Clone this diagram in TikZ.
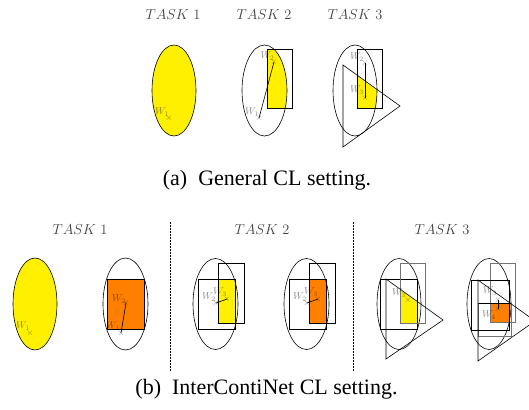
\documentclass[tikz,border=0pt]{standalone}
\usepackage{fontspec}
\newfontfamily\capfont{Liberation Serif}
\definecolor{cly}{RGB}{255,240,0}
\definecolor{clo}{RGB}{255,128,0}
\begin{document}
\begin{tikzpicture}[x=1pt,y=-1pt,
  shp/.style={draw=black,line width=0.6pt},
  gshp/.style={draw=black!55,line width=0.6pt},
  wlab/.style={font=\fontsize{10}{12}\selectfont,text=black,text opacity=0.45,inner sep=0pt},
  xmark/.style={font=\fontsize{9}{10}\selectfont,text=black,text opacity=0.45,inner sep=0pt},
  wline/.style={draw=black,line width=0.6pt},
  tasklab/.style={font=\fontsize{13.5}{16}\selectfont,text=black!75,inner sep=0pt},
  caplab/.style={font=\capfont\fontsize{22}{26}\selectfont,inner sep=0pt},
  sep/.style={draw=black,line width=0.5pt,dash pattern=on 1.5pt off 1.5pt}]
\useasboundingbox (0,0) rectangle (529,409);
\clip (0,0) rectangle (529,409);

% ---------- (a) ----------
\node[tasklab] (ta1) at (173,15) {$TASK\ 1$};
\node[tasklab] (ta2) at (264,15) {$TASK\ 2$};
\node[tasklab] (ta3) at (355,15) {$TASK\ 3$};

% Task 1
\fill[cly] (174,90.5) ellipse [x radius=22pt,y radius=45.5pt];
\draw[shp] (174,90.5) ellipse [x radius=22pt,y radius=45.5pt];
\node[wlab] (a1l1) at (162,112) {$W_1$};
\node[xmark] (a1x1) at (169,118) {$\times$};

% Task 2
\begin{scope}
  \clip (264.5,90.5) ellipse [x radius=22.5pt,y radius=45.5pt];
  \fill[cly] (267,49) rectangle (292,108);
\end{scope}
\draw[shp] (264.5,90.5) ellipse [x radius=22.5pt,y radius=45.5pt];
\draw[shp] (267,49) rectangle (292,108);
\node[wlab] (a2l2) at (267.5,56) {$W_2$};
\node[xmark] (a2x2) at (274,62) {$\times$};
\node[wlab] (a2l1) at (252,112) {$W_1$};
\node[xmark] (a2x1) at (259,118) {$\times$};
\draw[wline] (a2x1.center) -- (a2x2.center);

% Task 3
\begin{scope}
  \clip (355,90.5) ellipse [x radius=22pt,y radius=45.5pt];
  \clip (357,49) rectangle (382,108);
  \fill[cly] (343,65) -- (400,106) -- (343,147) -- cycle;
\end{scope}
\draw[shp] (355,90.5) ellipse [x radius=22pt,y radius=45.5pt];
\draw[shp] (357,49) rectangle (382,108);
\draw[shp] (343,65) -- (400,106) -- (343,147) -- cycle;
\node[wlab] (a3l2) at (357,57) {$W_2$};
\node[xmark] (a3x2) at (365,63) {$\times$};
\node[wlab] (a3l3) at (357,90) {$W_3$};
\node[xmark] (a3x3) at (365,98) {$\times$};
\draw[wline] (a3x2.center) -- (a3x3.center);

\node[caplab] (capa) at (267,180) {(a)\ \ General CL setting.};

% ---------- (b) ----------
\node[tasklab] (tb1) at (80,230) {$TASK\ 1$};
\node[tasklab] (tb2) at (262,230) {$TASK\ 2$};
\node[tasklab] (tb3) at (442,230) {$TASK\ 3$};
\coordinate (s1t) at (170,222); \coordinate (s1b) at (170,372);
\coordinate (s2t) at (353,222); \coordinate (s2b) at (353,372);
\draw[sep] (s1t) -- (s1b);
\draw[sep] (s2t) -- (s2b);

% Task 1 left
\fill[cly] (35,304) ellipse [x radius=22pt,y radius=46pt];
\draw[shp] (35,304) ellipse [x radius=22pt,y radius=46pt];
\node[wlab] (b1l1) at (23,326) {$W_1$};
\node[xmark] (b1x1) at (30,333) {$\times$};

% Task 1 right
\draw[shp] (125.5,304) ellipse [x radius=22.5pt,y radius=46pt];
\fill[clo] (107,279) rectangle (144,329);
\draw[shp] (107,279) rectangle (144,329);
\node[wlab] (b1rl2) at (119,299) {$W_2$};
\node[xmark] (b1rx2) at (126,303) {$\times$};
\node[wlab] (b1rl1) at (113,326) {$W_1$};
\node[xmark] (b1rx1) at (121,333) {$\times$};
\draw[wline] (b1rx1.center) -- (b1rx2.center);

% Task 2 left
\fill[cly] (218,279) rectangle (235,323);
\draw[shp] (215.5,304) ellipse [x radius=22.5pt,y radius=45.5pt];
\draw[shp] (198,279) rectangle (235,329);
\draw[shp] (218,263) rectangle (244,323);
\node[wlab] (b2l2) at (209,297) {$W_2$};
\node[xmark] (b2x2) at (216,303) {$\times$};
\node[wlab] (b2l3) at (220,292) {$W_3$};
\node[xmark] (b2x3) at (227,299) {$\times$};
\draw[wline] (b2x2.center) -- (b2x3.center);

% Task 2 right
\fill[clo] (309,279) rectangle (326,323);
\draw[shp] (306.5,304) ellipse [x radius=22.5pt,y radius=45.5pt];
\draw[shp] (289,279) rectangle (326,329);
\draw[shp] (309,263) rectangle (335,323);
\node[wlab] (b2rl2) at (300,297) {$W_2$};
\node[xmark] (b2rx2) at (307,303) {$\times$};
\node[wlab] (b2rl3) at (311,292) {$W_3$};
\node[xmark] (b2rx3) at (318,299) {$\times$};
\draw[wline] (b2rx2.center) -- (b2rx3.center);

% Task 3 left
\begin{scope}
  \clip (400,279) rectangle (417,323);
  \fill[cly] (386,279) -- (443,320) -- (386,359) -- cycle;
\end{scope}
\draw[shp] (399,304) ellipse [x radius=22pt,y radius=45.5pt];
\draw[shp] (380,279) rectangle (417,329);
\draw[gshp] (400,263) rectangle (425,323);
\draw[shp] (386,279) -- (443,320) -- (386,359) -- cycle;
\node[wlab] (b3l3) at (399,293) {$W_3$};
\node[xmark] (b3x3) at (408,300) {$\times$};

% Task 3 right
\fill[clo] (490,303) rectangle (509,322);
\draw[shp] (489,304) ellipse [x radius=22pt,y radius=45.5pt];
\draw[gshp] (490,263) rectangle (515,322);
\draw[gshp] (478,303) rectangle (511,336);
\draw[shp] (478,303) -- (511,303);
\draw[shp] (471,280) rectangle (509,330);
\draw[shp] (478,280) -- (535,321) -- (478,361) -- cycle;
\node[wlab] (b3rl3) at (490,291) {$W_3$};
\node[xmark] (b3rx3) at (498,300) {$\times$};
\node[wlab] (b3rl4) at (489,315) {$W_4$};
\node[xmark] (b3rx4) at (498,309) {$\times$};
\draw[wline] (b3rx3.center) -- (b3rx4.center);

\node[caplab] (capb) at (266.5,389) {(b)\ \ InterContiNet CL setting.};
\end{tikzpicture}
\end{document}
